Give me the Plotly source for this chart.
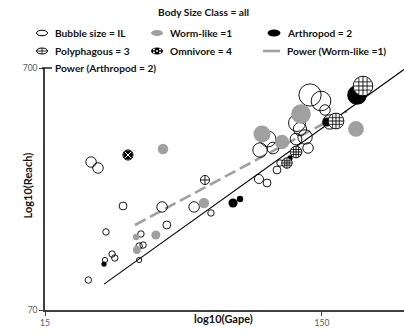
import numpy as np
import plotly.graph_objects as go

W, H = 404, 336
ML, MR, MT, MB = 45, 0, 68, 26

# ---- data: gape vs reach, bubble size = IL ----
open_gape = [21.5, 24.9, 28.7, 24.7, 26.2, 26.8, 33.3, 32.8, 33.9, 32.8, 41.3, 39.7,
             51.8, 59.6, 22.0, 23.3, 88.8, 95.0, 103.2, 105.8, 133.6, 120.9, 130.3,
             89.6, 99.8, 95.8, 121.9, 124.9, 135.8, 148.8, 153.8, 160.3]
open_reach = [93.1, 147.1, 188.3, 112.6, 119.2, 114.8, 144.3, 128.7, 129.9, 112.6, 157.2,
              186.6, 186.6, 176.2, 286.2, 270.3, 243.5, 234.4, 265.2, 283.5, 326.9, 356.1,
              363.0, 320.8, 326.9, 356.1, 414.8, 391.8, 541.4, 511.4, 469.4, 418.8]
open_il = [6, 6, 9, 4, 6, 6, 6, 6, 6, 4, 9, 16,
           16, 6, 16, 16, 12, 9, 9, 6, 16, 20, 30,
           30, 20, 36, 42, 25, 72, 56, 16, 30]

worm_gape = [40.0, 32.0, 32.2, 37.7, 56.2, 91.1, 107.6, 126.0, 199.0]
worm_reach = [323.9, 140.2, 123.9, 142.9, 193.8, 373.6, 346.2, 451.9, 391.8]
worm_il = [16, 6, 9, 12, 16, 42, 30, 56, 36]

arth_gape = [24.5, 71.6, 75.9, 115.0, 156.4, 200.7]
arth_reach = [108.4, 193.8, 201.3, 297.3, 418.8, 541.4]
arth_il = [4, 12, 6, 4, 12, 56]

poly_gape = [56.7, 112.1, 120.9, 168.5, 210.9]
poly_reach = [241.2, 283.5, 314.8, 422.7, 589.8]
poly_il = [12, 16, 20, 36, 56]

omni_gape = [29.9]
omni_reach = [305.9]
omni_il = [15]

# power fits  reach = a * gape^b
worm_fit_a, worm_fit_b = 18.76, 0.615
worm_fit_x = [31.7, 184.7]
arth_fit_a, arth_fit_b = 6.52, 0.819
arth_fit_x = [24.5, 296.6]

x_ticks = [15, 150]
y_ticks = [70, 700]
x_range = [15, 296.6]
y_range = [70, 700]

GRAY = "#a0a0a0"
FONT = "Lato"
SREF = 0.29  # area sizing: diameter = sqrt(IL / SREF)

fig = go.Figure()


def fit_line(a, b, xs):
    xs = np.array(xs, dtype=float)
    return xs, a * xs ** b


# trend lines
fx, fy = fit_line(worm_fit_a, worm_fit_b, worm_fit_x)
fig.add_trace(go.Scatter(x=fx, y=fy, mode="lines",
                         line=dict(color=GRAY, width=2.6, dash="12px,5px")))
fx, fy = fit_line(arth_fit_a, arth_fit_b, arth_fit_x)
fig.add_trace(go.Scatter(x=fx, y=fy, mode="lines",
                         line=dict(color="black", width=1.1)))


def bubbles(x, y, il, **marker):
    m = dict(size=il, sizemode="area", sizeref=SREF, sizemin=1, opacity=1)
    m.update(marker)
    fig.add_trace(go.Scatter(x=x, y=y, mode="markers", marker=m))


bubbles(open_gape, open_reach, open_il, symbol="circle-open", color="black",
        line=dict(width=0.9))
bubbles(worm_gape, worm_reach, worm_il, symbol="circle", color=GRAY,
        line=dict(width=0))
bubbles(arth_gape, arth_reach, arth_il, symbol="circle", color="black",
        line=dict(width=0))
bubbles(poly_gape, poly_reach, poly_il, symbol="circle-cross", color="white",
        line=dict(color="black", width=0.9))
poly_il_arr = np.array(poly_il)
big = poly_il_arr >= 16
bubbles(np.array(poly_gape)[big], np.array(poly_reach)[big], poly_il_arr[big],
        symbol="hash-open", color="black", sizeref=SREF / 0.84 ** 2,
        line=dict(color="black", width=0.8))
bubbles(omni_gape, omni_reach, omni_il, symbol="circle-x", color="black",
        line=dict(color="white", width=1))
bubbles(omni_gape, omni_reach, omni_il, symbol="circle-open", color="black",
        line=dict(width=1))

# ---- legend / labels in pixel coordinates ----
PW = W - ML - MR
PH = H - MT - MB


def px(x):
    return (x - ML) / PW


def py(y):
    return (H - MB - y) / PH


def label(x, y, text, size=10.2, anchor="left"):
    fig.add_annotation(x=px(x), y=py(y), xref="paper", yref="paper", text=text,
                       showarrow=False, xanchor=anchor, yanchor="middle",
                       font=dict(family=FONT, size=size, color="#111111", weight="bold"))


def ellipse(cx, cy, w, h, fill, line_color=None, lw=1):
    fig.add_shape(type="circle", xref="paper", yref="paper",
                  x0=px(cx - w / 2), x1=px(cx + w / 2), y0=py(cy + h / 2), y1=py(cy - h / 2),
                  fillcolor=fill, line=dict(color=line_color or fill, width=lw if line_color else 0))


def seg(x0, y0, x1, y1, color, lw):
    fig.add_shape(type="line", xref="paper", yref="paper",
                  x0=px(x0), x1=px(x1), y0=py(y0), y1=py(y1),
                  line=dict(color=color, width=lw))


label(203, 12, "Body Size Class = all", anchor="center")
rows = [33, 51, 68]
cols = [53, 168, 285]
label(cols[0], rows[0], "Bubble size = IL")
label(cols[1], rows[0], "Worm-like =1")
label(cols[2], rows[0], "Arthropod = 2")
label(cols[0], rows[1], "Polyphagous = 3")
label(cols[1], rows[1], "Omnivore = 4")
label(cols[2], rows[1], "Power (Worm-like =1)")
label(cols[0], rows[2], "Power (Arthropod = 2)")

ellipse(42, rows[0], 11, 5.5, "rgba(0,0,0,0)", "black", 1)
ellipse(157, rows[0], 12, 6, GRAY)
ellipse(274, rows[0], 13, 7, "black")
ellipse(42, rows[1], 11, 6, "white", "black", 1)
seg(36.5, rows[1], 47.5, rows[1], "black", 0.8)
seg(42, rows[1] - 3, 42, rows[1] + 3, "black", 0.8)
ellipse(157, rows[1], 12, 7, "black")
for dx, dy in [(-3, -1.5), (0, 0), (3, -1.5), (-3, 1.5), (3, 1.5)]:
    ellipse(157 + dx, rows[1] + dy, 2, 2, "white")
seg(263, rows[1], 280, rows[1], GRAY, 2.6)
seg(42, rows[2], 52, rows[2], "black", 1.3)

# axis titles
fig.add_annotation(x=px(18), y=py(186), xref="paper", yref="paper", text="Log10(Reach)",
                   textangle=-90, showarrow=False,
                   font=dict(family=FONT, size=11, color="#111111", weight="bold"))
fig.add_annotation(x=px(223), y=py(327), xref="paper", yref="paper", text="log10(Gape)",
                   showarrow=False,
                   font=dict(family=FONT, size=11, color="#111111", weight="bold"))

axis_common = dict(type="log", showgrid=False, zeroline=False, showline=True,
                   linecolor="#404040", linewidth=1.5, ticks="outside", ticklen=4,
                   tickcolor="#404040", tickwidth=1,
                   tickfont=dict(family=FONT, size=8.5, color="#595959"),
                   automargin=False)
fig.update_xaxes(range=[np.log10(x_range[0]), np.log10(x_range[1])],
                 tickvals=x_ticks, ticktext=[str(v) for v in x_ticks], **axis_common)
fig.update_yaxes(range=[np.log10(y_range[0]), np.log10(y_range[1])],
                 tickvals=y_ticks, ticktext=[str(v) for v in y_ticks], **axis_common)

fig.update_layout(width=W, height=H, margin=dict(l=ML, r=MR, t=MT, b=MB),
                  showlegend=False, plot_bgcolor="white", paper_bgcolor="white")
fig.write_html("out.html")
